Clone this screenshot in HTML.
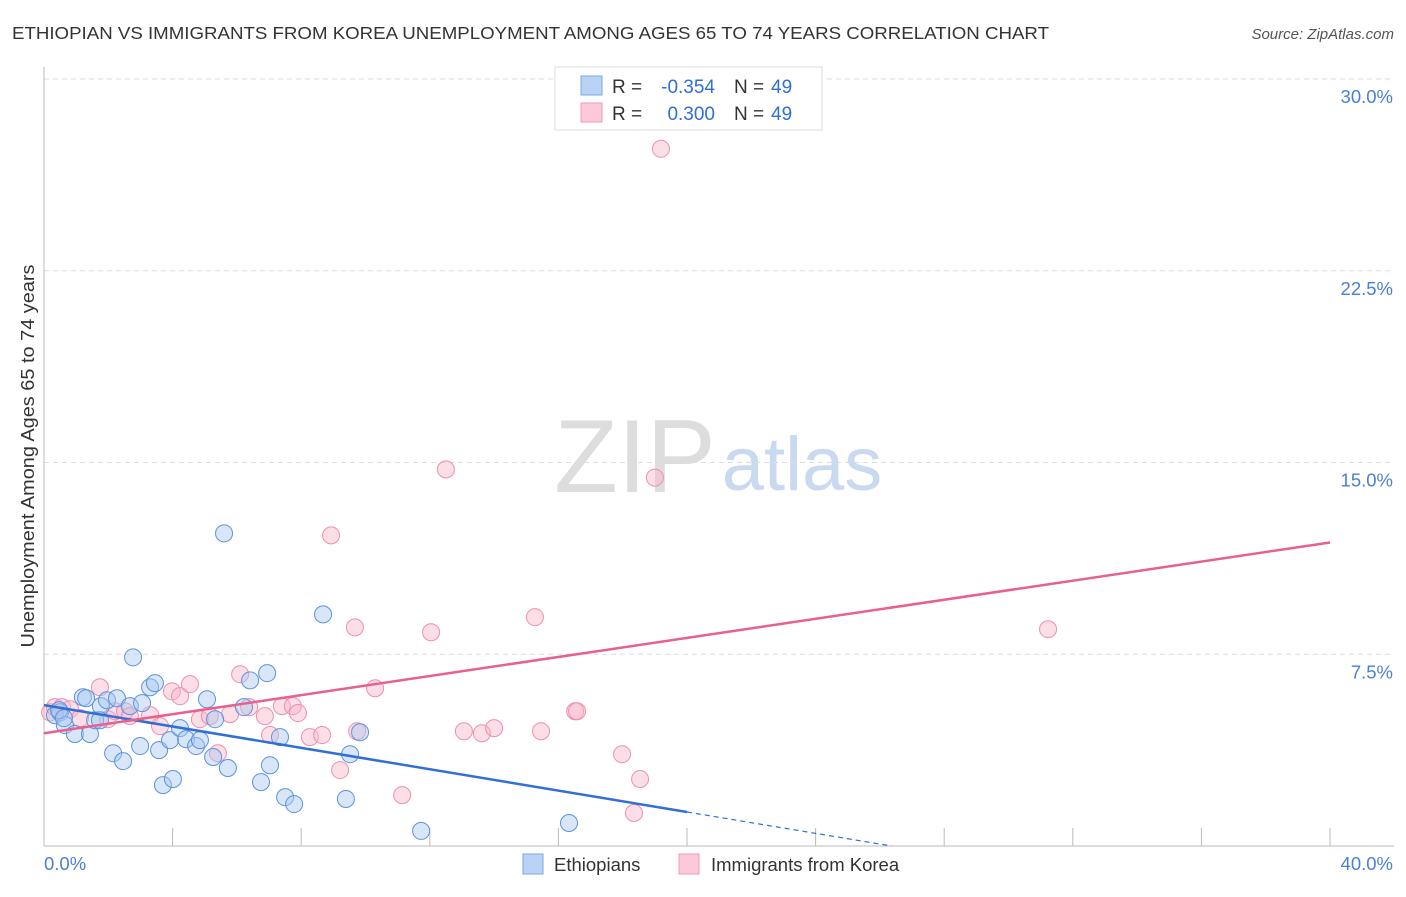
<!DOCTYPE html>
<html><head><meta charset="utf-8"><style>
body{margin:0;background:#fff;font-family:"Liberation Sans",sans-serif;}
svg text{font-family:"Liberation Sans",sans-serif;}
</style></head><body>
<svg id="chart" width="1406" height="892">
<text x="12" y="39" font-size="17.5" fill="#333" textLength="1037" lengthAdjust="spacingAndGlyphs">ETHIOPIAN VS IMMIGRANTS FROM KOREA UNEMPLOYMENT AMONG AGES 65 TO 74 YEARS CORRELATION CHART</text>
<text x="1394" y="39" font-size="15" fill="#555" font-style="italic" text-anchor="end">Source: ZipAtlas.com</text>
<g>
<text x="635" y="492" font-size="104" fill="#ddd" font-family="Liberation Serif, serif" text-anchor="middle">ZIP</text>
<text x="802" y="490" font-size="76" fill="#c9d9f0" text-anchor="middle">atlas</text>
</g>
<g id="grid"></g>
<g id="axes"></g>
<g id="marks"></g>
<text transform="translate(34,456) rotate(-90)" font-size="18" fill="#333" text-anchor="middle" textLength="383" lengthAdjust="spacingAndGlyphs">Unemployment Among Ages 65 to 74 years</text>
<g>
<rect x="555" y="67" width="267" height="63" fill="#fff" stroke="#ddd"/>
<rect x="581" y="76" width="21" height="19" fill="#b9d3f5" stroke="#7aa7e6"/>
<rect x="581" y="103" width="21" height="19" fill="#fbc9d7" stroke="#f09ab4"/>
<text x="612" y="93" font-size="19" fill="#333">R =</text>
<text x="715" y="93" font-size="19" fill="#2f6fd6" text-anchor="end">-0.354</text>
<text x="734" y="93" font-size="19" fill="#333">N =</text>
<text x="771" y="93" font-size="19" fill="#2f6fd6">49</text>
<text x="612" y="120" font-size="19" fill="#333">R =</text>
<text x="715" y="120" font-size="19" fill="#2f6fd6" text-anchor="end">0.300</text>
<text x="734" y="120" font-size="19" fill="#333">N =</text>
<text x="771" y="120" font-size="19" fill="#2f6fd6">49</text>
</g>
<g>
<rect x="523" y="854" width="20" height="20" fill="#b9d3f5" stroke="#7aa7e6"/>
<text x="554" y="871" font-size="18.5" fill="#333">Ethiopians</text>
<rect x="679" y="854" width="20" height="20" fill="#fbc9d7" stroke="#f09ab4"/>
<text x="711" y="871" font-size="18.5" fill="#333">Immigrants from Korea</text>
</g>
</svg>
<script>
const yTicks=[7.5,15.0,22.5,30.0];
const xTickLabels=["0.0%","40.0%"];
const blueX=[0.34,0.5,0.65,0.96,1.21,1.31,1.43,1.59,1.77,1.96,2.15,2.27,2.46,2.67,2.77,2.99,3.05,3.3,3.45,3.58,3.7,4.01,3.92,4.23,4.42,4.73,4.85,5.07,5.26,5.32,5.6,5.72,6.22,6.41,6.75,6.94,7.03,7.34,7.5,7.78,8.68,9.39,9.52,9.83,11.73,16.33,0.47,0.62,1.74];
const blueY=[5.12,5.23,4.73,4.38,5.82,5.78,4.38,4.92,5.47,5.7,3.63,5.78,3.32,5.47,7.38,3.91,5.59,6.21,6.37,3.75,2.38,2.62,4.14,4.61,4.18,3.91,4.14,5.74,3.48,4.96,12.23,3.05,5.43,6.48,2.5,6.76,3.16,4.26,1.91,1.64,9.06,1.84,3.59,4.45,0.59,0.9,5.31,5.0,4.92];
const pinkX=[0.19,0.34,0.56,0.81,1.12,1.74,1.99,2.21,2.52,2.67,3.3,3.61,3.98,4.23,4.54,4.85,5.16,5.41,5.79,6.1,6.38,6.87,7.03,7.4,7.74,7.9,8.27,8.65,8.93,9.21,9.67,9.74,10.3,11.14,12.04,12.5,13.06,13.62,14.0,15.27,15.46,16.52,16.58,17.98,18.35,18.54,19.0,19.19,31.23];
const pinkY=[5.23,5.43,5.43,5.35,5.0,6.21,4.96,5.27,5.27,5.08,5.12,4.69,6.05,5.86,6.33,4.96,5.08,3.63,5.16,6.72,5.43,5.08,4.34,5.47,5.47,5.2,4.26,4.34,12.15,2.97,8.55,4.49,6.17,1.99,8.36,14.73,4.49,4.41,4.61,8.95,4.49,5.27,5.27,3.59,1.29,2.62,14.41,27.27,8.48];
const blueTrend=[5.51,-0.209];
const pinkTrend=[4.41,0.1865];
const NS="http://www.w3.org/2000/svg";
const X=v=>44+v*(1286/40), Y=v=>846-v*(767/30);
function mk(tag,attrs,parent){const e=document.createElementNS(NS,tag);for(const k in attrs)e.setAttribute(k,attrs[k]);parent.appendChild(e);return e;}
const grid=document.getElementById('grid'),axes=document.getElementById('axes'),marks=document.getElementById('marks');
yTicks.forEach(t=>{
 const l=mk('line',{x1:44,x2:1394,y1:Y(t),y2:Y(t),stroke:'#ddd','stroke-dasharray':'5,4'},grid);
 
 
 const tx=mk('text',{x:1393,y:Y(t)+24,'font-size':18.5,fill:'#4a7fd6','text-anchor':'end'},grid);
 tx.textContent=t.toFixed(1)+'%';
 
 
});
const ax=mk('line',{x1:44,x2:44,y1:67,y2:846,stroke:'#bbb'},axes);


const bx=mk('line',{x1:44,x2:1394,y1:846,y2:846,stroke:'#bbb'},axes);


for(let i=1;i<=10;i++){const t=mk('line',{x1:X(i*4),x2:X(i*4),y1:828,y2:846,stroke:'#bbb'},axes);
 
 }
xTickLabels.forEach((s,i)=>{const t=mk('text',{x:i?1393:44,y:870,'font-size':18.5,fill:'#4a7fd6','text-anchor':i?'end':'start'},axes);t.textContent=s;
 
 });
function dots(xs,ys,fill,stroke,name){xs.forEach((x,i)=>{const c=mk('circle',{cx:X(x),cy:Y(ys[i]),r:8.5,fill:fill,'fill-opacity':0.45,stroke:stroke,'stroke-width':1},marks);
 
 });}
dots(pinkX,pinkY,'#f8b6ca','#ef8fae','korea-point');
dots(blueX,blueY,'#a9c8f0','#5b93e0','ethiopian-point');
const bl=mk('line',{x1:X(0),y1:Y(blueTrend[0]),x2:X(20),y2:Y(blueTrend[0]+blueTrend[1]*20),stroke:'#2f6fd6','stroke-width':2.5},marks);


const xEnd=-blueTrend[0]/blueTrend[1];
const bd=mk('line',{x1:X(20),y1:Y(blueTrend[0]+blueTrend[1]*20),x2:X(xEnd),y2:Y(0),stroke:'#2f6fd6','stroke-width':1.2,'stroke-dasharray':'5,4'},marks);


const pl=mk('line',{x1:X(0),y1:Y(pinkTrend[0]),x2:X(40),y2:Y(pinkTrend[0]+pinkTrend[1]*40),stroke:'#e8608e','stroke-width':2.5},marks);


</script>
</body></html>
